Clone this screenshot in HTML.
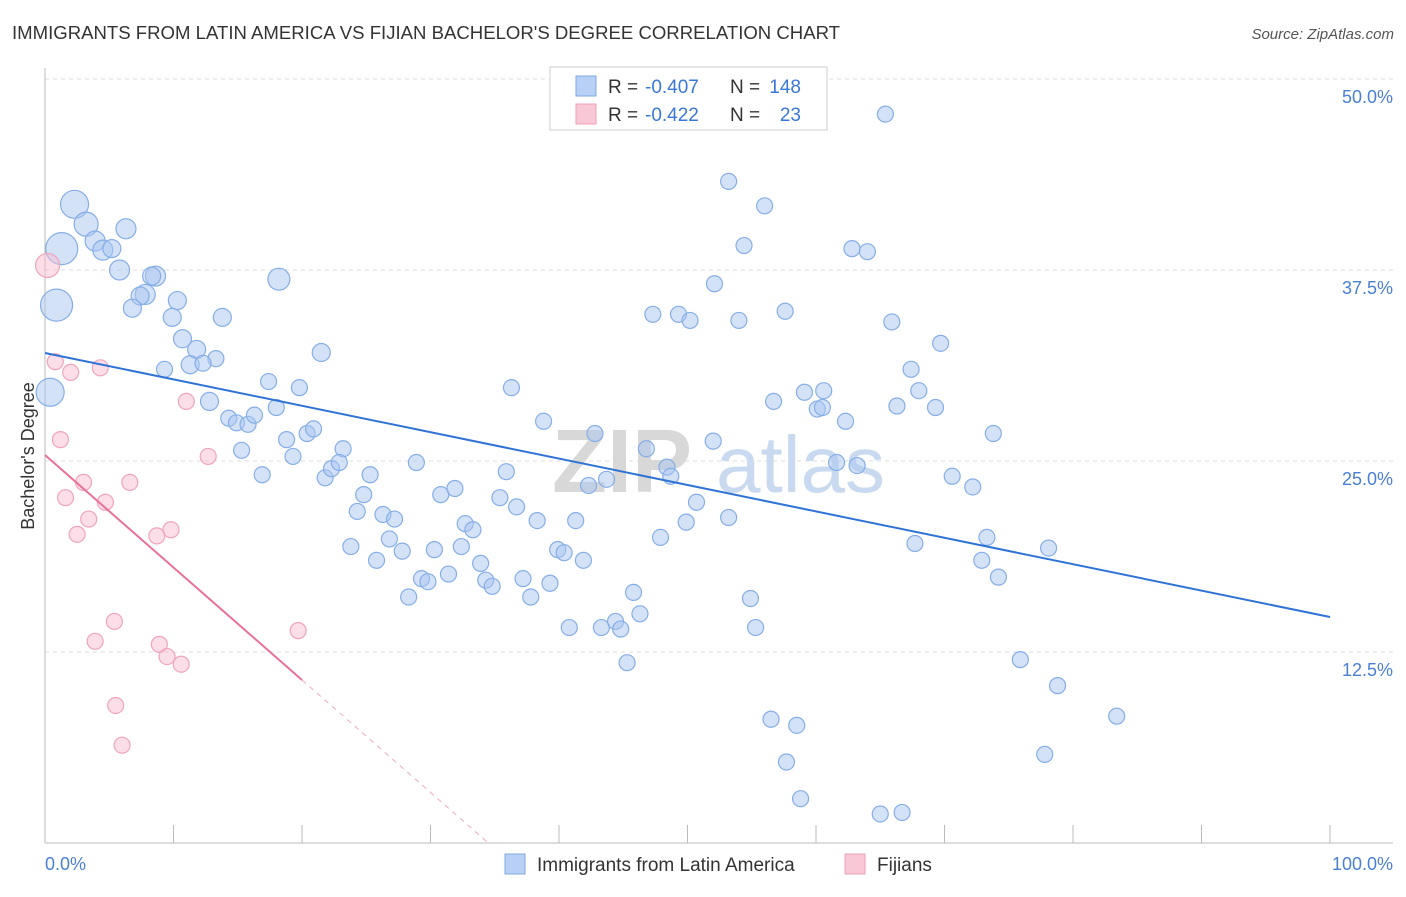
<!DOCTYPE html>
<html><head><meta charset="utf-8"><style>
body{margin:0;background:#fff;font-family:"Liberation Sans",sans-serif;}
svg text{font-family:"Liberation Sans",sans-serif;}
</style></head><body>
<svg id="chart" width="1406" height="892">
<text x="12" y="39" font-size="18" fill="#333" textLength="828" lengthAdjust="spacingAndGlyphs">IMMIGRANTS FROM LATIN AMERICA VS FIJIAN BACHELOR'S DEGREE CORRELATION CHART</text>
<text x="1394" y="39" font-size="15" fill="#555" text-anchor="end" font-style="italic">Source: ZipAtlas.com</text>
<g id="grid"></g>
<g><text x="552" y="492" font-size="90" fill="#d8d8d8" font-weight="bold">ZIP</text><text x="716" y="492" font-size="80" fill="#c9daf0">atlas</text></g>
<g id="ticks"></g>
<g id="pts"></g>
<g id="lines"></g>
<text transform="translate(34,456) rotate(-90)" font-size="18" fill="#333" text-anchor="middle">Bachelor's Degree</text>
<text x="45" y="870" font-size="18" fill="#4a7fd4">0.0%</text>
<text x="1393" y="870" font-size="18" fill="#4a7fd4" text-anchor="end">100.0%</text>
<g>
<rect x="550" y="67" width="277" height="63" fill="#fff" stroke="#ccc"/>
<rect x="576" y="76" width="20" height="20" fill="#b8d0f5" stroke="#7fa8e0"/>
<rect x="576" y="104" width="20" height="20" fill="#f9c8d6" stroke="#f0a0b8"/>
<text x="608" y="93" font-size="19" fill="#333">R =</text>
<text x="645" y="93" font-size="19" fill="#3a78d8">-0.407</text>
<text x="730" y="93" font-size="19" fill="#333">N =</text>
<text x="801" y="93" font-size="19" fill="#3a78d8" text-anchor="end">148</text>
<text x="608" y="121" font-size="19" fill="#333">R =</text>
<text x="645" y="121" font-size="19" fill="#3a78d8">-0.422</text>
<text x="730" y="121" font-size="19" fill="#333">N =</text>
<text x="801" y="121" font-size="19" fill="#3a78d8" text-anchor="end">23</text>
</g>
<g>
<rect x="505" y="854" width="20" height="20" fill="#b8d0f5" stroke="#7fa8e0"/>
<text x="537" y="871" font-size="19" fill="#333">Immigrants from Latin America</text>
<rect x="845" y="854" width="20" height="20" fill="#f9c8d6" stroke="#f0a0b8"/>
<text x="877" y="871" font-size="19" fill="#333">Fijians</text>
</g>
</svg>
<script>
const yTicks=[12.5,25,37.5,50];
const yTickLabels=["12.5%","25.0%","37.5%","50.0%"];
const xTicks=[0,10,20,30,40,50,60,70,80,90,100];
const blueX=[2.3,3.2,1.3,3.9,4.5,5.2,6.3,5.8,8.6,8.3,0.9,7.8,7.4,6.8,10.3,9.9,13.8,18.2,10.7,11.8,11.3,13.3,12.3,9.3,21.5,0.4,12.8,17.4,19.8,14.3,14.9,15.8,16.3,18.0,15.3,16.9,18.8,19.3,20.4,20.9,23.2,21.8,22.3,22.9,25.3,24.8,24.3,26.3,27.2,26.8,23.8,25.8,27.8,28.9,30.8,31.9,29.3,29.8,31.4,28.3,30.3,32.4,32.7,33.3,33.9,34.3,34.8,36.3,35.9,35.4,36.7,38.3,38.8,37.2,37.8,39.3,39.9,40.4,41.3,41.9,40.8,42.3,42.8,43.7,43.3,44.4,44.8,46.3,45.8,45.3,46.8,47.3,48.4,48.7,47.9,49.3,50.2,49.9,50.7,52.0,52.1,53.2,54.4,54.0,53.2,54.9,55.3,56.0,57.6,56.7,56.5,58.5,57.7,58.8,59.1,60.1,60.5,60.6,62.3,61.6,63.2,62.8,64.0,65.4,65.9,66.3,67.4,68.0,69.3,69.7,67.7,70.6,72.2,73.8,73.3,72.9,74.2,78.1,75.9,78.8,77.8,83.4,65.0,66.7];
const blueY=[41.8,40.5,38.9,39.4,38.8,38.9,40.2,37.5,37.1,37.1,35.2,35.9,35.8,35.0,35.5,34.4,34.4,36.9,33.0,32.3,31.3,31.7,31.4,31.0,32.1,29.5,28.9,30.2,29.8,27.8,27.5,27.4,28.0,28.5,25.7,24.1,26.4,25.3,26.8,27.1,25.8,23.9,24.5,24.9,24.1,22.8,21.7,21.5,21.2,19.9,19.4,18.5,19.1,24.9,22.8,23.2,17.3,17.1,17.6,16.1,19.2,19.4,20.9,20.5,18.3,17.2,16.8,29.8,24.3,22.6,22.0,21.1,27.6,17.3,16.1,17.0,19.2,19.0,21.1,18.5,14.1,23.4,26.8,23.8,14.1,14.5,14.0,15.0,16.4,11.8,25.8,34.6,24.6,24.0,20.0,34.6,34.2,21.0,22.3,26.3,36.6,43.3,39.1,34.2,21.3,16.0,14.1,41.7,34.8,28.9,8.1,7.7,5.3,2.9,29.5,28.4,28.5,29.6,27.6,24.9,24.7,38.9,38.7,47.7,34.1,28.6,31.0,29.6,28.5,32.7,19.6,24.0,23.3,26.8,20.0,18.5,17.4,19.3,12.0,10.3,5.8,8.3,1.9,2.0];
const blueR=[14,12,16,10,10,9,10,10,10,9,16,10,9,9,9,9,9,11,9,9,9,8,8,8,9,14,9];
const pinkX=[0.2,0.8,2.0,4.3,1.2,3.0,1.6,3.4,2.5,4.7,6.6,11.0,12.7,9.8,8.7,5.4,3.9,8.9,9.5,10.6,19.7,5.5,6.0];
const pinkY=[37.8,31.5,30.8,31.1,26.4,23.6,22.6,21.2,20.2,22.3,23.6,28.9,25.3,20.5,20.1,14.5,13.2,13.0,12.2,11.7,13.9,9.0,6.4];
const pinkR=[12];
const blueLine=[32.07,14.79];
const pinkLine=[25.39,-0.736];
const NS="http://www.w3.org/2000/svg";
const X=v=>45+v*12.85, Y=v=>843-v*15.28;
function mk(t,a,p){const e=document.createElementNS(NS,t);for(const k in a)e.setAttribute(k,a[k]);p.appendChild(e);return e;}
const grid=document.getElementById('grid'),ticks=document.getElementById('ticks'),pts=document.getElementById('pts'),lines=document.getElementById('lines');
yTicks.forEach((t,i)=>{
 const l=mk('line',{x1:45,x2:1393,y1:Y(t),y2:Y(t),stroke:'#ddd','stroke-dasharray':'4,4'},grid);
 
 
 const tx=mk('text',{x:1393,y:Y(t)+24,'font-size':18,fill:'#4a7fd4','text-anchor':'end'},grid);
 tx.textContent=yTickLabels[i];
 
 
});
const ax=mk('line',{x1:45,x2:1393,y1:843,y2:843,stroke:'#bbb'},ticks);


const ay=mk('line',{x1:45,x2:45,y1:68,y2:843,stroke:'#bbb'},ticks);


xTicks.forEach(t=>{
 const l=mk('line',{x1:X(t),x2:X(t),y1:825,y2:843,stroke:'#bbb'},ticks);
 
 
});
blueX.forEach((x,i)=>{
 const c=mk('circle',{cx:X(x),cy:Y(blueY[i]),r:blueR[i]||8,fill:'rgba(170,198,242,0.5)',stroke:'#86aee6','stroke-width':1.2},pts);
 
 
});
pinkX.forEach((x,i)=>{
 const c=mk('circle',{cx:X(x),cy:Y(pinkY[i]),r:pinkR[i]||8,fill:'rgba(248,190,208,0.5)',stroke:'#f0a4bc','stroke-width':1.2},pts);
 
 
});
const bl=mk('line',{x1:X(0),y1:Y(blueLine[0]),x2:X(100),y2:Y(blueLine[1]),stroke:'#2f73d6','stroke-width':2},lines);


const pEnd=20, pZero=-pinkLine[0]/pinkLine[1];
const pl=mk('line',{x1:X(0),y1:Y(pinkLine[0]),x2:X(pEnd),y2:Y(pinkLine[0]+pinkLine[1]*pEnd),stroke:'#e8709a','stroke-width':2},lines);


const pd=mk('line',{x1:X(pEnd),y1:Y(pinkLine[0]+pinkLine[1]*pEnd),x2:X(pZero),y2:Y(0),stroke:'#eeaac0','stroke-width':1,'stroke-dasharray':'5,5'},lines);


</script>
</body></html>
